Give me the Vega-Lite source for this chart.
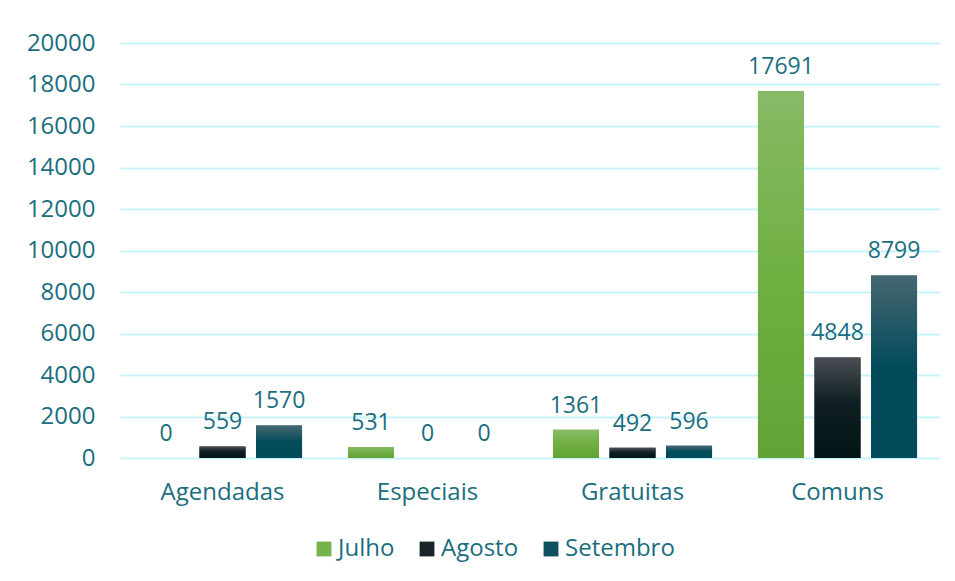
{
  "$schema": "https://vega.github.io/schema/vega-lite/v6.json",
  "autosize": "none",
  "width": 820,
  "height": 415,
  "padding": {"left": 120, "top": 43, "right": 15, "bottom": 123},
  "background": "white",
  "config": {
    "font": "Open Sans",
    "view": {"stroke": null},
    "axis": {"labelFont": "Open Sans", "labelColor": "#1b6e80", "labelFontSize": 24, "domain": false, "ticks": false, "title": null},
    "legend": {"labelFont": "Open Sans", "labelColor": "#1b6e80", "labelFontSize": 24}
  },
  "data": {
    "values": [
      {"categoria": "Agendadas", "mes": "Julho", "valor": 0},
      {"categoria": "Agendadas", "mes": "Agosto", "valor": 559},
      {"categoria": "Agendadas", "mes": "Setembro", "valor": 1570},
      {"categoria": "Especiais", "mes": "Julho", "valor": 531},
      {"categoria": "Especiais", "mes": "Agosto", "valor": 0},
      {"categoria": "Especiais", "mes": "Setembro", "valor": 0},
      {"categoria": "Gratuitas", "mes": "Julho", "valor": 1361},
      {"categoria": "Gratuitas", "mes": "Agosto", "valor": 492},
      {"categoria": "Gratuitas", "mes": "Setembro", "valor": 596},
      {"categoria": "Comuns", "mes": "Julho", "valor": 17691},
      {"categoria": "Comuns", "mes": "Agosto", "valor": 4848},
      {"categoria": "Comuns", "mes": "Setembro", "valor": 8799}
    ]
  },
  "encoding": {
    "x": {
      "field": "categoria", "type": "nominal", "sort": null,
      "scale": {"paddingInner": 0.224, "paddingOuter": 0.112},
      "axis": {"labelAngle": 0, "labelPadding": 22, "grid": false}
    },
    "xOffset": {
      "field": "mes", "type": "nominal", "sort": ["Julho", "Agosto", "Setembro"],
      "scale": {"paddingInner": 0.186, "paddingOuter": 0}
    },
    "y": {
      "field": "valor", "type": "quantitative",
      "scale": {"domain": [0, 20000], "nice": false},
      "axis": {"values": [0, 2000, 4000, 6000, 8000, 10000, 12000, 14000, 16000, 18000, 20000], "labelPadding": 25, "gridColor": "#c8f3fb", "gridWidth": 2, "format": "d"}
    }
  },
  "layer": [
    {
      "mark": {"type": "bar"},
      "encoding": {
        "color": {
          "field": "mes", "type": "nominal", "sort": ["Julho", "Agosto", "Setembro"],
          "scale": {"domain": ["Julho", "Agosto", "Setembro"], "range": ["#76b34d", "#1a2428", "#0d5060"]},
          "legend": {
            "title": null, "orient": "none", "direction": "horizontal", "legendX": 192, "legendY": 494,
            "symbolType": "square", "symbolSize": 220, "columnPadding": 20, "labelOffset": 2, "symbolStrokeWidth": 0,
            "symbolOpacity": 1
          }
        }
      }
    },
    {
      "mark": {"type": "bar"},
      "encoding": {
        "fill": {
          "condition": [
            {"test": "datum.mes === 'Julho'", "value": {"gradient": "linear", "x1": 0, "y1": 0, "x2": 0, "y2": 1, "stops": [{"offset": 0, "color": "#87ba66"}, {"offset": 0.5, "color": "#70b043"}, {"offset": 1, "color": "#62a236"}]}},
            {"test": "datum.mes === 'Agosto'", "value": {"gradient": "linear", "x1": 0, "y1": 0, "x2": 0, "y2": 1, "stops": [{"offset": 0, "color": "#4b4f54"}, {"offset": 0.45, "color": "#0e1e22"}, {"offset": 1, "color": "#021416"}]}}
          ],
          "value": {"gradient": "linear", "x1": 0, "y1": 0, "x2": 0, "y2": 1, "stops": [{"offset": 0, "color": "#466771"}, {"offset": 0.5, "color": "#024b5b"}, {"offset": 1, "color": "#024a5a"}]}
        }
      }
    },
    {
      "mark": {"type": "text", "baseline": "bottom", "dy": -12, "font": "Open Sans", "fontSize": 23, "color": "#1b6e80"},
      "encoding": {"text": {"field": "valor", "type": "quantitative", "format": "d"}}
    }
  ]
}
